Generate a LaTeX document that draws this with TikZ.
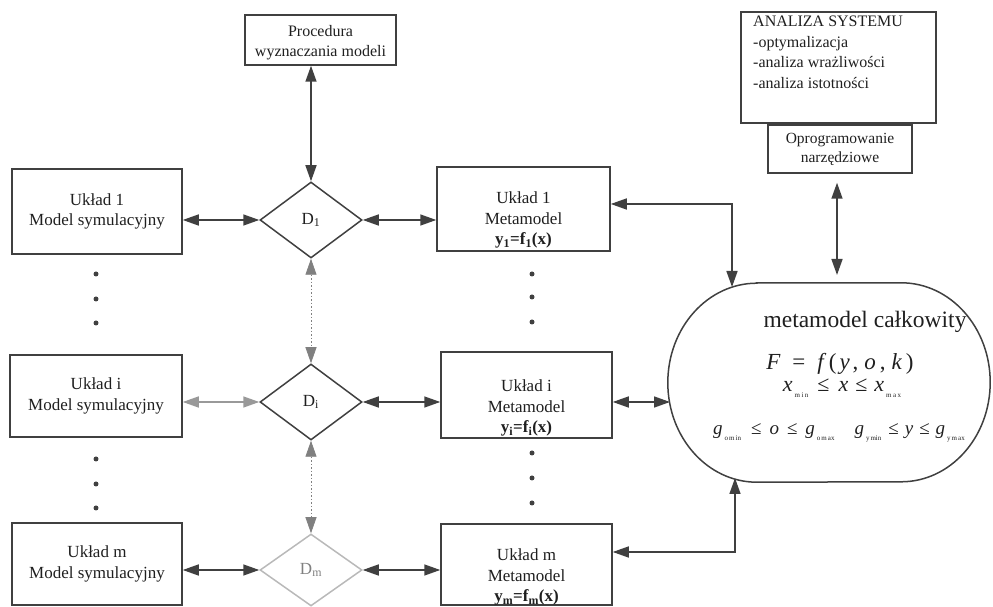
\documentclass[tikz,border=0pt]{standalone}
\usepackage{fontspec}
\setmainfont{Liberation Serif}
\usetikzlibrary{shapes.geometric,arrows.meta,calc}
\definecolor{lc}{rgb}{0.25,0.25,0.25}
\definecolor{tc}{rgb}{0.12,0.12,0.12}
\newcommand\sbx[1]{\raisebox{-6pt}{\fontsize{7}{7}\selectfont\upshape #1}}
\newcommand\gp[1]{\hspace{#1pt}}
\tikzset{
  box/.style={draw=lc, line width=1.5pt, rectangle, inner sep=0pt, align=center, text=tc, font=\fontsize{17}{20.5}\selectfont},
  txt/.style={inner sep=0pt, align=center, text=tc, font=\fontsize{17}{20.5}\selectfont},
  dia/.style={draw=lc, line width=1.5pt, diamond, inner sep=0pt, minimum width=102pt, minimum height=76pt, text=tc, font=\fontsize{17}{20}\selectfont},
  dbl/.style={line width=1.5pt, draw=lc, {Triangle[length=16pt,width=11pt]}-{Triangle[length=16pt,width=11pt]}},
  dotl/.style={dbl, draw=gray, line width=0.8pt, dash pattern=on 1.5pt off 2pt},
  dotmark/.style={circle, fill=lc, inner sep=0pt, minimum size=5pt},
}
\begin{document}
\begin{tikzpicture}[x=1pt,y=1pt]
\useasboundingbox (0,0) rectangle (993,607);
% top boxes
\node[box, minimum width=151pt, minimum height=50pt] (proc) at (320.5,567) {};
\node[txt, font=\fontsize{16}{20}\selectfont] (proct) at (320.5,564) {Procedura\\wyznaczania modeli};
\node[box, minimum width=195pt, minimum height=111pt] (anal) at (838.5,539.5) {};
\node[txt, anchor=north west, align=left, font=\fontsize{16}{20.5}\selectfont] (analt) at (753,591) {ANALIZA SYSTEMU\\-optymalizacja\\-analiza wrażliwości\\-analiza istotności};
\node[box, minimum width=144pt, minimum height=48pt, font=\fontsize{15.5}{19}\selectfont] (oprog) at (840,458) {Oprogramowanie\\narzędziowe};
% simulation models
\node[box, minimum width=170pt, minimum height=85pt] (s1) at (97,395.5) {Układ 1\\Model symulacyjny};
\node[box, minimum width=172pt, minimum height=82pt] (si) at (96,211) {Układ i\\Model symulacyjny};
\node[box, minimum width=170pt, minimum height=82pt] (sm) at (97,43) {Układ m\\Model symulacyjny};
% decision diamonds
\node[dia] (d1) at (311,387) {D\textsubscript{1}};
\node[dia] (di) at (311,205) {D\textsubscript{i}};
\node[dia, draw=gray!55, minimum height=72pt, text=gray] (dm) at (311,37) {D\textsubscript{m}};
% metamodels
\node[box, minimum width=173pt, minimum height=84pt] (m1) at (523.5,398) {};
\node[txt] (m1t) at (523.5,387) {Układ 1\\Metamodel\\\textbf{y\textsubscript{1}=f\textsubscript{1}(x)}};
\node[box, minimum width=171pt, minimum height=86pt] (mi) at (526.5,212) {};
\node[txt] (mit) at (526.5,199) {Układ i\\Metamodel\\\textbf{y\textsubscript{i}=f\textsubscript{i}(x)}};
\node[box, minimum width=171pt, minimum height=81pt] (mm) at (526.5,42.5) {};
\node[txt] (mmt) at (526.5,30) {Układ m\\Metamodel\\\textbf{y\textsubscript{m}=f\textsubscript{m}(x)}};
% total metamodel
\node[minimum width=322pt, minimum height=199pt, inner sep=0pt] (tot) at (829,224.5) {};
\draw[line width=1.5pt, draw=lc] ([xshift=89pt]tot.north west) -- ([xshift=-89pt]tot.north east)
  arc[start angle=90, end angle=-90, x radius=89pt, y radius=99.5pt]
  -- ([xshift=89pt]tot.south west)
  arc[start angle=270, end angle=90, x radius=89pt, y radius=99.5pt] -- cycle;
\node[txt, anchor=base, font=\fontsize{23.5}{25}\selectfont] (tot1) at (865,279) {metamodel całkowity};
\node[txt, anchor=base, font=\fontsize{23}{24}\selectfont\itshape] (tot2) at (840,237) {F\gp{12}\upshape=\gp{12}\itshape f\gp{5}\upshape(\gp{3}\itshape y\gp{3}\upshape,\gp{6}\itshape o\gp{4}\upshape,\gp{6}\itshape k\gp{4}\upshape)};
\node[txt, anchor=base, font=\fontsize{22}{24}\selectfont\itshape] (tot3) at (842,215) {x\gp{2}\sbx{m\gp{1.5}i\gp{1.5}n}\gp{9}\upshape≤\gp{9}\itshape x\gp{7}\upshape≤\gp{7}\itshape x\gp{2}\sbx{m\gp{1.5}a\gp{1.5}x}};
\node[txt, anchor=base, font=\fontsize{19}{20}\selectfont\itshape] (tot4) at (839,172) {g\gp{2}\sbx{o\gp{1}m\gp{1}in}\gp{10}\upshape≤\gp{8}\itshape o\gp{8}\upshape≤\gp{8}\itshape g\gp{2}\sbx{o\gp{1}m\gp{1}ax}\gp{20}\itshape g\gp{2}\sbx{y\gp{1}min}\gp{7}\upshape≤\gp{6}\itshape y\gp{6}\upshape≤\gp{6}\itshape g\gp{2}\sbx{y\gp{1}m\gp{1}ax}};
% dots
\foreach \n/\x/\y in {a/96/333, b/96/308, c/96/284, d/96/148, e/96/123, f/96/99,
                      g/532/333, h/532/310, i/532/285, j/532/154, k/532/129, l/532/104}
  \node[dotmark] (dot\n) at (\x,\y) {};
% entry points on the total metamodel
\coordinate (tA) at (732,320);
\coordinate (tB) at (837,332);
\coordinate (tL) at (670,205);
\coordinate (tC) at (735,129);
% connectors
\draw[dbl] (proc.south -| d1.north) -- (d1.north);
\draw[dbl] (s1.east |- d1.west) -- (d1.west);
\draw[dbl] (d1.east) -- (d1.east -| m1.west);
\draw[dotl] (d1.south) -- (di.north);
\draw[dotl] (di.south) -- (dm.north);
\draw[dbl, draw=gray!80] (si.east |- di.west) -- (di.west);
\draw[dbl] (di.east) -- (di.east -| mi.west);
\draw[dbl] (sm.east |- dm.west) -- (dm.west);
\draw[dbl] (dm.east) -- (dm.east -| mm.west);
\draw[dbl] ([yshift=5pt]m1.east) -| (tA);
\draw[dbl, shorten <=9pt] (oprog.south -| tB) -- (tB);
\draw[dbl] (mi.east |- tL) -- (tL);
\draw[dbl] ([yshift=12.5pt]mm.east) -| (tC);
\end{tikzpicture}
\end{document}
